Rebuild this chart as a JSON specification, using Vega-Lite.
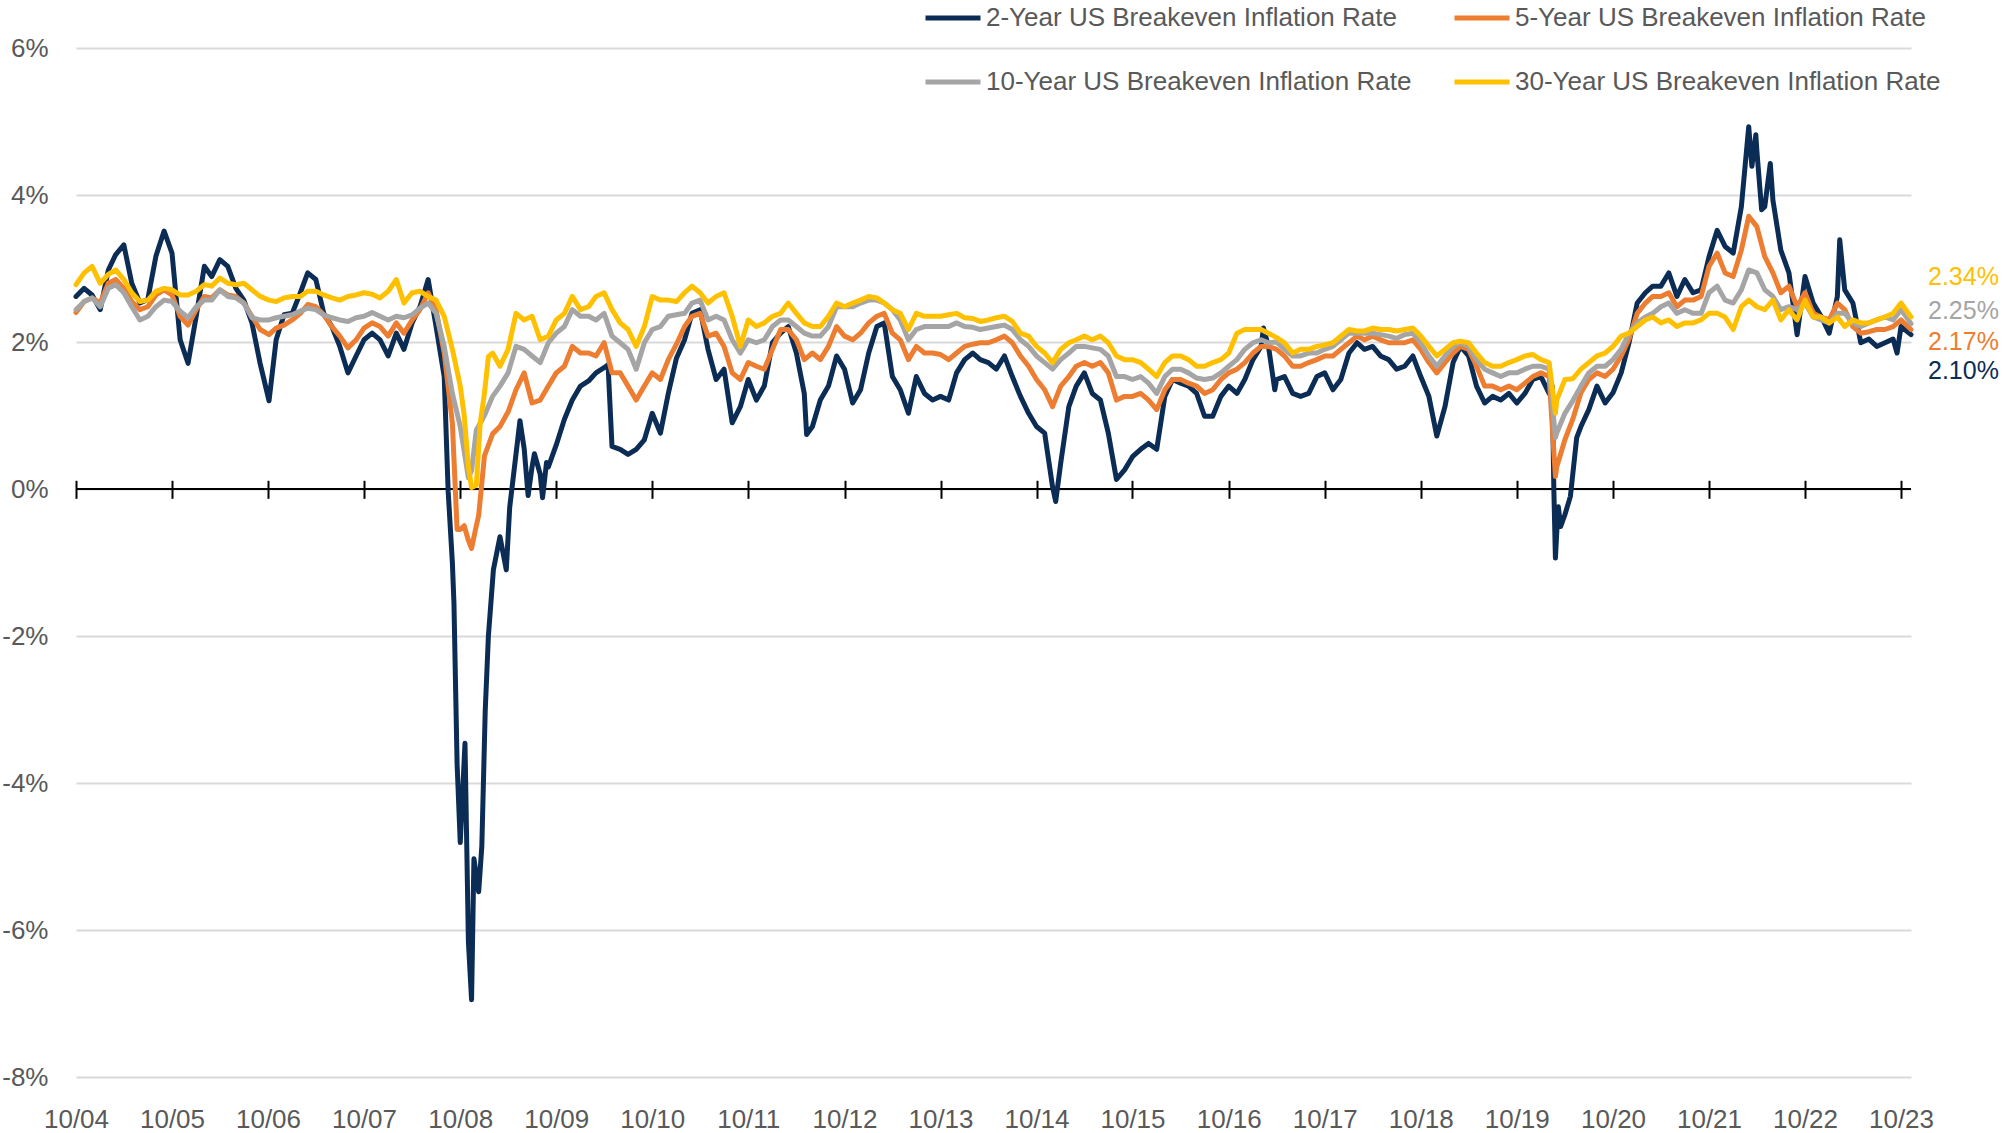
{
"$schema": "https://vega.github.io/schema/vega-lite/v6.json",
"width": 1835, "height": 1029,
"autosize": {"type": "none"},
"padding": {"left": 76, "top": 48, "right": 92, "bottom": 56},
"background": "white",
"config": {"view": {"stroke": null}, "font": "Liberation Sans"},
"datasets": {
"series": [
{"d":"2004-10-01","y2":2.62,"y5":2.40,"y10":2.44,"y30":2.78},
{"d":"2004-11-01","y2":2.73,"y5":2.55,"y10":2.55,"y30":2.94},
{"d":"2004-12-01","y2":2.64,"y5":2.60,"y10":2.60,"y30":3.03},
{"d":"2005-01-01","y2":2.44,"y5":2.53,"y10":2.48,"y30":2.80},
{"d":"2005-02-01","y2":2.98,"y5":2.80,"y10":2.73,"y30":2.92},
{"d":"2005-03-01","y2":3.19,"y5":2.85,"y10":2.78,"y30":2.98},
{"d":"2005-04-01","y2":3.32,"y5":2.73,"y10":2.67,"y30":2.85},
{"d":"2005-05-01","y2":2.80,"y5":2.55,"y10":2.48,"y30":2.67},
{"d":"2005-06-01","y2":2.53,"y5":2.44,"y10":2.30,"y30":2.55},
{"d":"2005-07-01","y2":2.58,"y5":2.48,"y10":2.35,"y30":2.57},
{"d":"2005-08-01","y2":3.17,"y5":2.64,"y10":2.48,"y30":2.69},
{"d":"2005-09-01","y2":3.51,"y5":2.71,"y10":2.57,"y30":2.73},
{"d":"2005-10-01","y2":3.21,"y5":2.64,"y10":2.55,"y30":2.71},
{"d":"2005-11-01","y2":2.03,"y5":2.35,"y10":2.42,"y30":2.64},
{"d":"2005-12-01","y2":1.71,"y5":2.23,"y10":2.33,"y30":2.64},
{"d":"2006-01-01","y2":2.35,"y5":2.44,"y10":2.48,"y30":2.69},
{"d":"2006-02-01","y2":3.03,"y5":2.62,"y10":2.57,"y30":2.78},
{"d":"2006-03-01","y2":2.89,"y5":2.60,"y10":2.57,"y30":2.76},
{"d":"2006-04-01","y2":3.12,"y5":2.71,"y10":2.71,"y30":2.87},
{"d":"2006-05-01","y2":3.03,"y5":2.64,"y10":2.62,"y30":2.80},
{"d":"2006-06-01","y2":2.73,"y5":2.62,"y10":2.60,"y30":2.78},
{"d":"2006-07-01","y2":2.57,"y5":2.53,"y10":2.53,"y30":2.80},
{"d":"2006-08-01","y2":2.26,"y5":2.35,"y10":2.33,"y30":2.71},
{"d":"2006-09-01","y2":1.71,"y5":2.17,"y10":2.30,"y30":2.62},
{"d":"2006-10-05","y2":1.20,"y5":2.10,"y10":2.30,"y30":2.57},
{"d":"2006-11-01","y2":2.03,"y5":2.19,"y10":2.33,"y30":2.55},
{"d":"2006-12-01","y2":2.37,"y5":2.23,"y10":2.35,"y30":2.60},
{"d":"2007-01-01","y2":2.39,"y5":2.30,"y10":2.37,"y30":2.62},
{"d":"2007-02-01","y2":2.67,"y5":2.39,"y10":2.42,"y30":2.62},
{"d":"2007-03-01","y2":2.94,"y5":2.51,"y10":2.46,"y30":2.69},
{"d":"2007-04-01","y2":2.85,"y5":2.48,"y10":2.44,"y30":2.69},
{"d":"2007-05-01","y2":2.39,"y5":2.37,"y10":2.37,"y30":2.64},
{"d":"2007-06-01","y2":2.21,"y5":2.21,"y10":2.33,"y30":2.60},
{"d":"2007-07-01","y2":1.94,"y5":2.08,"y10":2.30,"y30":2.57},
{"d":"2007-08-01","y2":1.58,"y5":1.92,"y10":2.28,"y30":2.62},
{"d":"2007-09-01","y2":1.81,"y5":2.03,"y10":2.33,"y30":2.64},
{"d":"2007-10-01","y2":2.03,"y5":2.19,"y10":2.35,"y30":2.67},
{"d":"2007-11-01","y2":2.12,"y5":2.26,"y10":2.40,"y30":2.65},
{"d":"2007-12-01","y2":2.03,"y5":2.21,"y10":2.35,"y30":2.60},
{"d":"2008-01-01","y2":1.81,"y5":2.08,"y10":2.30,"y30":2.69},
{"d":"2008-02-01","y2":2.12,"y5":2.26,"y10":2.35,"y30":2.85},
{"d":"2008-03-01","y2":1.90,"y5":2.12,"y10":2.33,"y30":2.53},
{"d":"2008-04-01","y2":2.26,"y5":2.30,"y10":2.37,"y30":2.67},
{"d":"2008-05-01","y2":2.48,"y5":2.44,"y10":2.46,"y30":2.69},
{"d":"2008-06-01","y2":2.85,"y5":2.67,"y10":2.53,"y30":2.62},
{"d":"2008-07-01","y2":2.21,"y5":2.44,"y10":2.39,"y30":2.57},
{"d":"2008-08-01","y2":1.53,"y5":1.85,"y10":1.94,"y30":2.35},
{"d":"2008-08-16","y2":-0.03},
{"d":"2008-09-01","y2":-1.0,"y5":0.9,"y10":1.30,"y30":1.90},
{"d":"2008-09-07","y2":-1.55},
{"d":"2008-09-19","y2":-3.74,"y5":-0.55},
{"d":"2008-10-01","y2":-4.81,"y5":-0.55,"y10":0.85,"y30":1.40},
{"d":"2008-10-16","y5":-0.5,"y30":1.0},
{"d":"2008-10-19","y2":-3.46},
{"d":"2008-11-01","y2":-6.16,"y5":-0.7,"y10":0.15,"y30":0.3},
{"d":"2008-11-13","y2":-6.95,"y5":-0.81,"y10":0.25,"y30":0.02},
{"d":"2008-11-22","y2":-5.03},
{"d":"2008-12-01","y5":-0.5,"y10":0.8,"y30":0.05},
{"d":"2008-12-10","y2":-5.48,"y5":-0.36},
{"d":"2008-12-16","y30":0.9},
{"d":"2008-12-22","y2":-4.86},
{"d":"2009-01-01","y5":0.45,"y10":1.0,"y30":1.3},
{"d":"2009-01-04","y2":-3.01},
{"d":"2009-01-16","y2":-2.0,"y30":1.8},
{"d":"2009-02-01","y5":0.75,"y10":1.26,"y30":1.85},
{"d":"2009-02-04","y2":-1.1},
{"d":"2009-03-01","y2":-0.65,"y5":0.85,"y10":1.40,"y30":1.67},
{"d":"2009-03-25","y2":-1.1},
{"d":"2009-04-01","y5":1.05,"y10":1.58,"y30":1.90},
{"d":"2009-04-07","y2":-0.25},
{"d":"2009-05-01","y5":1.35,"y10":1.94,"y30":2.39},
{"d":"2009-05-16","y2":0.93},
{"d":"2009-06-01","y2":0.55,"y5":1.58,"y10":1.90,"y30":2.30},
{"d":"2009-06-16","y2":-0.09},
{"d":"2009-07-01","y2":0.30,"y5":1.17,"y10":1.81,"y30":2.35},
{"d":"2009-07-10","y2":0.48},
{"d":"2009-08-01","y2":0.20,"y5":1.21,"y10":1.72,"y30":2.03},
{"d":"2009-08-10","y2":-0.12},
{"d":"2009-08-25","y2":0.36},
{"d":"2009-09-01","y2":0.30,"y5":1.40,"y10":1.99,"y30":2.08},
{"d":"2009-10-01","y2":0.60,"y5":1.58,"y10":2.12,"y30":2.30},
{"d":"2009-11-01","y2":0.95,"y5":1.67,"y10":2.21,"y30":2.39},
{"d":"2009-12-01","y2":1.21,"y5":1.94,"y10":2.44,"y30":2.62},
{"d":"2010-01-01","y2":1.40,"y5":1.85,"y10":2.35,"y30":2.44},
{"d":"2010-02-01","y2":1.47,"y5":1.85,"y10":2.35,"y30":2.48},
{"d":"2010-03-01","y2":1.58,"y5":1.81,"y10":2.30,"y30":2.62},
{"d":"2010-04-01","y2":1.65,"y5":1.99,"y10":2.39,"y30":2.67},
{"d":"2010-04-16","y2":1.69},
{"d":"2010-05-01","y2":0.58,"y5":1.58,"y10":2.08,"y30":2.44},
{"d":"2010-06-01","y2":0.54,"y5":1.58,"y10":1.99,"y30":2.26},
{"d":"2010-07-01","y2":0.47,"y5":1.40,"y10":1.90,"y30":2.17},
{"d":"2010-08-01","y2":0.54,"y5":1.21,"y10":1.63,"y30":1.94},
{"d":"2010-09-01","y2":0.67,"y5":1.40,"y10":1.99,"y30":2.21},
{"d":"2010-10-01","y2":1.03,"y5":1.58,"y10":2.17,"y30":2.62},
{"d":"2010-11-01","y2":0.76,"y5":1.49,"y10":2.21,"y30":2.57},
{"d":"2010-12-01","y2":1.30,"y5":1.76,"y10":2.35,"y30":2.57},
{"d":"2011-01-01","y2":1.78,"y5":1.97,"y10":2.37,"y30":2.55},
{"d":"2011-02-01","y2":2.03,"y5":2.21,"y10":2.39,"y30":2.67},
{"d":"2011-03-01","y2":2.39,"y5":2.35,"y10":2.53,"y30":2.76},
{"d":"2011-04-01","y2":2.44,"y5":2.39,"y10":2.57,"y30":2.67},
{"d":"2011-05-01","y2":1.90,"y5":2.08,"y10":2.30,"y30":2.53},
{"d":"2011-06-01","y2":1.49,"y5":2.12,"y10":2.35,"y30":2.62},
{"d":"2011-07-01","y2":1.63,"y5":1.94,"y10":2.30,"y30":2.67},
{"d":"2011-08-01","y2":0.90,"y5":1.58,"y10":2.03,"y30":2.35},
{"d":"2011-09-01","y2":1.12,"y5":1.49,"y10":1.85,"y30":1.94},
{"d":"2011-10-01","y2":1.49,"y5":1.72,"y10":2.03,"y30":2.30},
{"d":"2011-11-01","y2":1.21,"y5":1.67,"y10":1.99,"y30":2.21},
{"d":"2011-12-01","y2":1.40,"y5":1.63,"y10":2.03,"y30":2.26},
{"d":"2012-01-01","y2":1.99,"y5":1.90,"y10":2.21,"y30":2.35},
{"d":"2012-02-01","y2":2.12,"y5":2.17,"y10":2.30,"y30":2.39},
{"d":"2012-03-01","y2":2.21,"y5":2.17,"y10":2.30,"y30":2.53},
{"d":"2012-04-01","y2":1.85,"y5":2.03,"y10":2.21,"y30":2.39},
{"d":"2012-05-01","y2":1.30,"y5":1.76,"y10":2.12,"y30":2.26},
{"d":"2012-05-10","y2":0.74},
{"d":"2012-06-01","y2":0.85,"y5":1.85,"y10":2.08,"y30":2.21},
{"d":"2012-07-01","y2":1.21,"y5":1.76,"y10":2.08,"y30":2.21},
{"d":"2012-08-01","y2":1.40,"y5":1.94,"y10":2.21,"y30":2.35},
{"d":"2012-09-01","y2":1.81,"y5":2.21,"y10":2.48,"y30":2.53},
{"d":"2012-10-01","y2":1.63,"y5":2.08,"y10":2.48,"y30":2.48},
{"d":"2012-11-01","y2":1.17,"y5":2.03,"y10":2.48,"y30":2.53},
{"d":"2012-12-01","y2":1.35,"y5":2.12,"y10":2.53,"y30":2.57},
{"d":"2013-01-01","y2":1.85,"y5":2.26,"y10":2.57,"y30":2.62},
{"d":"2013-02-01","y2":2.21,"y5":2.35,"y10":2.57,"y30":2.60},
{"d":"2013-03-01","y2":2.26,"y5":2.39,"y10":2.53,"y30":2.53},
{"d":"2013-04-01","y2":1.53,"y5":2.12,"y10":2.44,"y30":2.44},
{"d":"2013-05-01","y2":1.35,"y5":2.03,"y10":2.30,"y30":2.39},
{"d":"2013-06-01","y2":1.03,"y5":1.76,"y10":2.03,"y30":2.17},
{"d":"2013-07-01","y2":1.53,"y5":1.94,"y10":2.17,"y30":2.39},
{"d":"2013-08-01","y2":1.30,"y5":1.85,"y10":2.21,"y30":2.35},
{"d":"2013-09-01","y2":1.21,"y5":1.85,"y10":2.21,"y30":2.35},
{"d":"2013-10-01","y2":1.26,"y5":1.83,"y10":2.21,"y30":2.35},
{"d":"2013-11-01","y2":1.21,"y5":1.76,"y10":2.21,"y30":2.37},
{"d":"2013-12-01","y2":1.58,"y5":1.85,"y10":2.26,"y30":2.39},
{"d":"2014-01-01","y2":1.76,"y5":1.94,"y10":2.21,"y30":2.33},
{"d":"2014-02-01","y2":1.85,"y5":1.97,"y10":2.20,"y30":2.32},
{"d":"2014-03-01","y2":1.76,"y5":1.99,"y10":2.17,"y30":2.28},
{"d":"2014-04-01","y2":1.72,"y5":1.99,"y10":2.19,"y30":2.30},
{"d":"2014-05-01","y2":1.63,"y5":2.03,"y10":2.21,"y30":2.33},
{"d":"2014-06-01","y2":1.81,"y5":2.08,"y10":2.23,"y30":2.35},
{"d":"2014-07-01","y2":1.53,"y5":1.99,"y10":2.17,"y30":2.28},
{"d":"2014-08-01","y2":1.26,"y5":1.81,"y10":2.03,"y30":2.12},
{"d":"2014-09-01","y2":1.03,"y5":1.67,"y10":1.94,"y30":2.08},
{"d":"2014-10-01","y2":0.85,"y5":1.49,"y10":1.81,"y30":1.94},
{"d":"2014-11-01","y2":0.76,"y5":1.35,"y10":1.72,"y30":1.85},
{"d":"2014-12-01","y2":0.03,"y5":1.12,"y10":1.63,"y30":1.72},
{"d":"2014-12-13","y2":-0.17},
{"d":"2015-01-01","y2":0.35,"y5":1.40,"y10":1.76,"y30":1.90},
{"d":"2015-02-01","y2":1.12,"y5":1.53,"y10":1.85,"y30":1.99},
{"d":"2015-03-01","y2":1.40,"y5":1.67,"y10":1.94,"y30":2.03},
{"d":"2015-04-01","y2":1.58,"y5":1.72,"y10":1.94,"y30":2.08},
{"d":"2015-05-01","y2":1.30,"y5":1.67,"y10":1.92,"y30":2.03},
{"d":"2015-06-01","y2":1.21,"y5":1.72,"y10":1.90,"y30":2.08},
{"d":"2015-07-01","y2":0.76,"y5":1.58,"y10":1.81,"y30":1.99},
{"d":"2015-08-01","y2":0.13,"y5":1.21,"y10":1.53,"y30":1.81},
{"d":"2015-09-01","y2":0.26,"y5":1.26,"y10":1.53,"y30":1.76},
{"d":"2015-10-01","y2":0.44,"y5":1.26,"y10":1.49,"y30":1.76},
{"d":"2015-11-01","y2":0.54,"y5":1.30,"y10":1.53,"y30":1.72},
{"d":"2015-12-01","y2":0.62,"y5":1.21,"y10":1.44,"y30":1.63},
{"d":"2016-01-01","y2":0.54,"y5":1.08,"y10":1.30,"y30":1.53},
{"d":"2016-02-01","y2":1.26,"y5":1.35,"y10":1.53,"y30":1.72},
{"d":"2016-03-01","y2":1.49,"y5":1.49,"y10":1.63,"y30":1.81},
{"d":"2016-04-01","y2":1.44,"y5":1.49,"y10":1.63,"y30":1.81},
{"d":"2016-05-01","y2":1.40,"y5":1.44,"y10":1.58,"y30":1.76},
{"d":"2016-06-01","y2":1.30,"y5":1.40,"y10":1.51,"y30":1.67},
{"d":"2016-07-01","y2":0.99,"y5":1.30,"y10":1.49,"y30":1.67},
{"d":"2016-08-01","y2":0.99,"y5":1.35,"y10":1.51,"y30":1.72},
{"d":"2016-09-01","y2":1.26,"y5":1.49,"y10":1.58,"y30":1.76},
{"d":"2016-10-01","y2":1.40,"y5":1.58,"y10":1.67,"y30":1.85},
{"d":"2016-11-01","y2":1.30,"y5":1.63,"y10":1.76,"y30":2.12},
{"d":"2016-12-01","y2":1.49,"y5":1.72,"y10":1.90,"y30":2.17},
{"d":"2017-01-01","y2":1.76,"y5":1.85,"y10":1.99,"y30":2.17},
{"d":"2017-02-01","y2":1.94,"y5":1.94,"y10":2.03,"y30":2.17},
{"d":"2017-02-10","y2":2.19},
{"d":"2017-03-01","y2":1.94,"y5":1.94,"y10":1.99,"y30":2.12},
{"d":"2017-03-25","y2":1.35},
{"d":"2017-04-01","y2":1.49,"y5":1.90,"y10":2.00,"y30":2.06},
{"d":"2017-05-01","y2":1.53,"y5":1.81,"y10":1.90,"y30":1.99},
{"d":"2017-06-01","y2":1.30,"y5":1.67,"y10":1.81,"y30":1.85},
{"d":"2017-07-01","y2":1.26,"y5":1.67,"y10":1.81,"y30":1.90},
{"d":"2017-08-01","y2":1.30,"y5":1.72,"y10":1.85,"y30":1.90},
{"d":"2017-09-01","y2":1.53,"y5":1.76,"y10":1.85,"y30":1.94},
{"d":"2017-10-01","y2":1.58,"y5":1.81,"y10":1.90,"y30":1.96},
{"d":"2017-11-01","y2":1.35,"y5":1.81,"y10":1.94,"y30":1.99},
{"d":"2017-12-01","y2":1.49,"y5":1.90,"y10":2.03,"y30":2.08},
{"d":"2018-01-01","y2":1.85,"y5":1.99,"y10":2.12,"y30":2.17},
{"d":"2018-02-01","y2":1.99,"y5":2.08,"y10":2.12,"y30":2.15},
{"d":"2018-03-01","y2":1.90,"y5":2.03,"y10":2.12,"y30":2.15},
{"d":"2018-04-01","y2":1.94,"y5":2.08,"y10":2.12,"y30":2.19},
{"d":"2018-05-01","y2":1.81,"y5":2.03,"y10":2.10,"y30":2.17},
{"d":"2018-06-01","y2":1.76,"y5":1.99,"y10":2.08,"y30":2.17},
{"d":"2018-07-01","y2":1.63,"y5":1.99,"y10":2.05,"y30":2.15},
{"d":"2018-08-01","y2":1.67,"y5":1.99,"y10":2.10,"y30":2.17},
{"d":"2018-09-01","y2":1.81,"y5":2.03,"y10":2.12,"y30":2.19},
{"d":"2018-10-01","y2":1.53,"y5":1.90,"y10":1.99,"y30":2.08},
{"d":"2018-11-01","y2":1.26,"y5":1.72,"y10":1.81,"y30":1.94},
{"d":"2018-12-01","y2":0.72,"y5":1.58,"y10":1.67,"y30":1.81},
{"d":"2019-01-01","y2":1.12,"y5":1.72,"y10":1.81,"y30":1.90},
{"d":"2019-02-01","y2":1.72,"y5":1.85,"y10":1.94,"y30":1.99},
{"d":"2019-03-01","y2":1.94,"y5":1.94,"y10":1.99,"y30":2.01},
{"d":"2019-04-01","y2":1.81,"y5":1.90,"y10":1.94,"y30":1.99},
{"d":"2019-05-01","y2":1.40,"y5":1.67,"y10":1.76,"y30":1.85},
{"d":"2019-06-01","y2":1.17,"y5":1.40,"y10":1.63,"y30":1.72},
{"d":"2019-07-01","y2":1.26,"y5":1.40,"y10":1.58,"y30":1.67},
{"d":"2019-08-01","y2":1.21,"y5":1.35,"y10":1.53,"y30":1.67},
{"d":"2019-09-01","y2":1.30,"y5":1.40,"y10":1.58,"y30":1.72},
{"d":"2019-10-01","y2":1.17,"y5":1.35,"y10":1.58,"y30":1.76},
{"d":"2019-11-01","y2":1.30,"y5":1.44,"y10":1.63,"y30":1.81},
{"d":"2019-12-01","y2":1.49,"y5":1.53,"y10":1.67,"y30":1.83},
{"d":"2020-01-01","y2":1.53,"y5":1.58,"y10":1.67,"y30":1.76},
{"d":"2020-02-01","y2":1.30,"y5":1.53,"y10":1.63,"y30":1.72},
{"d":"2020-02-13","y2":1.40},
{"d":"2020-02-19","y2":0.0},
{"d":"2020-02-25","y2":-0.94,"y5":0.17,"y10":0.70,"y30":1.03},
{"d":"2020-03-01","y2":-0.6,"y5":0.30,"y10":0.76,"y30":1.21},
{"d":"2020-03-07","y2":-0.24},
{"d":"2020-03-16","y2":-0.51},
{"d":"2020-04-01","y2":-0.35,"y5":0.67,"y10":1.03,"y30":1.49},
{"d":"2020-04-22","y2":-0.1},
{"d":"2020-05-01","y2":0.2,"y5":0.95,"y10":1.2,"y30":1.5},
{"d":"2020-05-16","y2":0.7},
{"d":"2020-06-01","y2":0.85,"y5":1.31,"y10":1.40,"y30":1.63},
{"d":"2020-07-01","y2":1.08,"y5":1.49,"y10":1.58,"y30":1.72},
{"d":"2020-08-01","y2":1.40,"y5":1.58,"y10":1.67,"y30":1.81},
{"d":"2020-09-01","y2":1.17,"y5":1.53,"y10":1.67,"y30":1.85},
{"d":"2020-10-01","y2":1.31,"y5":1.63,"y10":1.76,"y30":1.94},
{"d":"2020-11-01","y2":1.58,"y5":1.81,"y10":1.90,"y30":2.08},
{"d":"2020-12-01","y2":1.99,"y5":2.04,"y10":2.12,"y30":2.12},
{"d":"2021-01-01","y2":2.53,"y5":2.39,"y10":2.26,"y30":2.21},
{"d":"2021-02-01","y2":2.67,"y5":2.53,"y10":2.34,"y30":2.30},
{"d":"2021-03-01","y2":2.76,"y5":2.62,"y10":2.39,"y30":2.34},
{"d":"2021-04-01","y2":2.76,"y5":2.62,"y10":2.48,"y30":2.26},
{"d":"2021-05-01","y2":2.94,"y5":2.67,"y10":2.53,"y30":2.30},
{"d":"2021-06-01","y2":2.62,"y5":2.48,"y10":2.39,"y30":2.21},
{"d":"2021-07-01","y2":2.85,"y5":2.57,"y10":2.44,"y30":2.26},
{"d":"2021-08-01","y2":2.67,"y5":2.57,"y10":2.39,"y30":2.26},
{"d":"2021-09-01","y2":2.71,"y5":2.62,"y10":2.39,"y30":2.30},
{"d":"2021-10-01","y2":3.16,"y5":3.03,"y10":2.67,"y30":2.39},
{"d":"2021-11-01","y2":3.52,"y5":3.21,"y10":2.76,"y30":2.39},
{"d":"2021-12-01","y2":3.30,"y5":2.94,"y10":2.57,"y30":2.34},
{"d":"2022-01-01","y2":3.21,"y5":2.89,"y10":2.53,"y30":2.17},
{"d":"2022-02-01","y2":3.84,"y5":3.25,"y10":2.71,"y30":2.48},
{"d":"2022-03-01","y2":4.93,"y5":3.71,"y10":2.98,"y30":2.57},
{"d":"2022-03-13","y2":4.39},
{"d":"2022-03-28","y2":4.82},
{"d":"2022-04-01","y2":4.6,"y5":3.57,"y10":2.94,"y30":2.48},
{"d":"2022-04-19","y2":3.80},
{"d":"2022-05-01","y2":3.84,"y5":3.16,"y10":2.71,"y30":2.44},
{"d":"2022-05-22","y2":4.43},
{"d":"2022-06-01","y2":3.93,"y5":2.94,"y10":2.62,"y30":2.57},
{"d":"2022-07-01","y2":3.25,"y5":2.67,"y10":2.44,"y30":2.30},
{"d":"2022-08-01","y2":2.94,"y5":2.76,"y10":2.48,"y30":2.44},
{"d":"2022-09-01","y2":2.10,"y5":2.48,"y10":2.44,"y30":2.30},
{"d":"2022-10-01","y2":2.89,"y5":2.67,"y10":2.53,"y30":2.57},
{"d":"2022-11-01","y2":2.53,"y5":2.39,"y10":2.34,"y30":2.34},
{"d":"2022-12-01","y2":2.35,"y5":2.34,"y10":2.30,"y30":2.34},
{"d":"2023-01-01","y2":2.12,"y5":2.30,"y10":2.26,"y30":2.26},
{"d":"2023-02-01","y2":2.62,"y5":2.53,"y10":2.39,"y30":2.34},
{"d":"2023-02-10","y2":3.39},
{"d":"2023-03-01","y2":2.71,"y5":2.44,"y10":2.39,"y30":2.21},
{"d":"2023-04-01","y2":2.53,"y5":2.21,"y10":2.26,"y30":2.30},
{"d":"2023-05-01","y2":1.99,"y5":2.12,"y10":2.21,"y30":2.26},
{"d":"2023-06-01","y2":2.04,"y5":2.14,"y10":2.26,"y30":2.26},
{"d":"2023-07-01","y2":1.94,"y5":2.17,"y10":2.30,"y30":2.30},
{"d":"2023-08-01","y2":1.99,"y5":2.17,"y10":2.34,"y30":2.34},
{"d":"2023-09-01","y2":2.04,"y5":2.21,"y10":2.30,"y30":2.39},
{"d":"2023-09-16","y2":1.85},
{"d":"2023-10-01","y2":2.21,"y5":2.30,"y10":2.44,"y30":2.53},
{"d":"2023-11-08","y2":2.10,"y5":2.17,"y10":2.25,"y30":2.34}
],
"ends": [
{"s":"y30","d":"2023-11-08","v":2.34,"t":"2.34%"},
{"s":"y10","d":"2023-11-08","v":2.25,"t":"2.25%"},
{"s":"y5","d":"2023-11-08","v":2.17,"t":"2.17%"},
{"s":"y2","d":"2023-11-08","v":2.10,"t":"2.10%"}
]
},
"layer": [
{
"data": {"values": [{}]},
"mark": {"type": "rule", "color": "#000000", "strokeWidth": 2},
"encoding": {"y": {"datum": 0, "type": "quantitative", "scale": {"domain": [-8, 6], "nice": false, "zero": false}}}
},
{
"data": {"name": "series"},
"transform": [
{"fold": ["y2", "y5", "y10", "y30"], "as": ["s", "v"]},
{"filter": "isValid(datum.v)"}
],
"mark": {"type": "line", "strokeWidth": 5, "strokeJoin": "round", "strokeCap": "round"},
"encoding": {
"x": {"field": "d", "type": "temporal",
"scale": {"type": "utc", "domain": [{"year": 2004, "month": 10, "date": 1, "utc": true}, {"year": 2023, "month": 11, "date": 8, "utc": true}]},
"axis": {"orient": "bottom", "values": [
{"year":2004,"month":10,"date":1,"utc":true},{"year":2005,"month":10,"date":1,"utc":true},{"year":2006,"month":10,"date":1,"utc":true},{"year":2007,"month":10,"date":1,"utc":true},{"year":2008,"month":10,"date":1,"utc":true},{"year":2009,"month":10,"date":1,"utc":true},{"year":2010,"month":10,"date":1,"utc":true},{"year":2011,"month":10,"date":1,"utc":true},{"year":2012,"month":10,"date":1,"utc":true},{"year":2013,"month":10,"date":1,"utc":true},{"year":2014,"month":10,"date":1,"utc":true},{"year":2015,"month":10,"date":1,"utc":true},{"year":2016,"month":10,"date":1,"utc":true},{"year":2017,"month":10,"date":1,"utc":true},{"year":2018,"month":10,"date":1,"utc":true},{"year":2019,"month":10,"date":1,"utc":true},{"year":2020,"month":10,"date":1,"utc":true},{"year":2021,"month":10,"date":1,"utc":true},{"year":2022,"month":10,"date":1,"utc":true},{"year":2023,"month":10,"date":1,"utc":true}],
"labelExpr": "utcFormat(datum.value, '%m/%y')",
"grid": false, "domain": false, "ticks": false, "tickSize": 0,
"labelPadding": 29, "labelFont": "Liberation Sans", "labelFontSize": 26, "labelColor": "#595959",
"labelFlush": false, "labelOverlap": false, "title": null}},
"y": {"field": "v", "type": "quantitative",
"scale": {"domain": [-8, 6], "nice": false, "zero": false},
"axis": {"values": [-8, -6, -4, -2, 0, 2, 4, 6], "labelExpr": "datum.value + '%'",
"grid": true, "gridColor": "#D9D9D9", "gridWidth": 2, "domain": false, "ticks": false, "tickSize": 0,
"labelPadding": 28, "labelFont": "Liberation Sans", "labelFontSize": 26, "labelColor": "#595959", "title": null}},
"color": {"field": "s", "type": "nominal",
"scale": {"domain": ["y2", "y5", "y10", "y30"], "range": ["#0B2C55", "#ED7D31", "#A5A5A5", "#FFC000"]},
"legend": {"orient": "none", "legendX": 847, "legendY": -60, "columns": 2, "direction": "horizontal", "title": null,
"symbolType": "stroke", "symbolSize": 3025, "symbolStrokeWidth": 5,
"labelFont": "Liberation Sans", "labelFontSize": 26, "labelColor": "#595959", "labelLimit": 1000,
"labelOffset": 3, "columnPadding": 32, "rowPadding": 21, "padding": 0,
"labelExpr": "replace(datum.label, 'y', '') + '-Year US Breakeven Inflation Rate'"}}
}
},
{
"data": {"name": "ends"},
"transform": [{"filter": "datum.s == 'y30'"}],
"mark": {"type": "text", "align": "left", "baseline": "middle", "dx": 17, "dy": -40, "font": "Liberation Sans", "fontSize": 25, "fill": "#FFC000"},
"encoding": {
"x": {"field": "d", "type": "temporal",
"scale": {"type": "utc", "domain": [{"year": 2004, "month": 10, "date": 1, "utc": true}, {"year": 2023, "month": 11, "date": 8, "utc": true}]},
"axis": {"orient": "top", "values": [
{"year":2004,"month":10,"date":1,"utc":true},{"year":2005,"month":10,"date":1,"utc":true},{"year":2006,"month":10,"date":1,"utc":true},{"year":2007,"month":10,"date":1,"utc":true},{"year":2008,"month":10,"date":1,"utc":true},{"year":2009,"month":10,"date":1,"utc":true},{"year":2010,"month":10,"date":1,"utc":true},{"year":2011,"month":10,"date":1,"utc":true},{"year":2012,"month":10,"date":1,"utc":true},{"year":2013,"month":10,"date":1,"utc":true},{"year":2014,"month":10,"date":1,"utc":true},{"year":2015,"month":10,"date":1,"utc":true},{"year":2016,"month":10,"date":1,"utc":true},{"year":2017,"month":10,"date":1,"utc":true},{"year":2018,"month":10,"date":1,"utc":true},{"year":2019,"month":10,"date":1,"utc":true},{"year":2020,"month":10,"date":1,"utc":true},{"year":2021,"month":10,"date":1,"utc":true},{"year":2022,"month":10,"date":1,"utc":true},{"year":2023,"month":10,"date":1,"utc":true}],
"labels": false, "domain": false, "grid": false, "ticks": true, "tickSize": 18, "tickColor": "#000000", "tickWidth": 2,
"offset": -450.3, "title": null}},
"y": {"field": "v", "type": "quantitative", "scale": {"domain": [-8, 6], "nice": false, "zero": false}},
"text": {"field": "t"}
}
},
{
"data": {"name": "ends"},
"transform": [{"filter": "datum.s == 'y10'"}],
"mark": {"type": "text", "align": "left", "baseline": "middle", "dx": 17, "dy": -13, "font": "Liberation Sans", "fontSize": 25, "fill": "#A5A5A5"},
"encoding": {
"x": {"field": "d", "type": "temporal", "scale": {"type": "utc", "domain": [{"year": 2004, "month": 10, "date": 1, "utc": true}, {"year": 2023, "month": 11, "date": 8, "utc": true}]}, "axis": null},
"y": {"field": "v", "type": "quantitative", "scale": {"domain": [-8, 6], "nice": false, "zero": false}},
"text": {"field": "t"}
}
},
{
"data": {"name": "ends"},
"transform": [{"filter": "datum.s == 'y5'"}],
"mark": {"type": "text", "align": "left", "baseline": "middle", "dx": 17, "dy": 12, "font": "Liberation Sans", "fontSize": 25, "fill": "#ED7D31"},
"encoding": {
"x": {"field": "d", "type": "temporal", "scale": {"type": "utc", "domain": [{"year": 2004, "month": 10, "date": 1, "utc": true}, {"year": 2023, "month": 11, "date": 8, "utc": true}]}, "axis": null},
"y": {"field": "v", "type": "quantitative", "scale": {"domain": [-8, 6], "nice": false, "zero": false}},
"text": {"field": "t"}
}
},
{
"data": {"name": "ends"},
"transform": [{"filter": "datum.s == 'y2'"}],
"mark": {"type": "text", "align": "left", "baseline": "middle", "dx": 17, "dy": 36, "font": "Liberation Sans", "fontSize": 25, "fill": "#0B2C55"},
"encoding": {
"x": {"field": "d", "type": "temporal", "scale": {"type": "utc", "domain": [{"year": 2004, "month": 10, "date": 1, "utc": true}, {"year": 2023, "month": 11, "date": 8, "utc": true}]}, "axis": null},
"y": {"field": "v", "type": "quantitative", "scale": {"domain": [-8, 6], "nice": false, "zero": false}},
"text": {"field": "t"}
}
}
],
"resolve": {"axis": {"x": "independent"}}
}
